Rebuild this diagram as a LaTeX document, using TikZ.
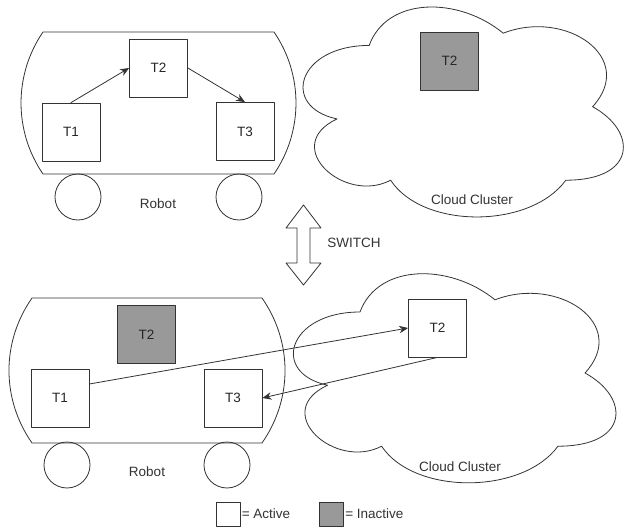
\documentclass[tikz,border=0pt]{standalone}
\usepackage{fontspec}
\setmainfont{Liberation Sans}
\usetikzlibrary{arrows.meta}
\definecolor{inactivegray}{HTML}{999999}
\definecolor{linegray}{HTML}{333333}

\tikzset{
  task/.style={draw=linegray,fill=white,minimum size=58pt,inner sep=0pt,text=black!85},
  inactive/.style={task,fill=inactivegray},
  legendbox/.style={draw=linegray,minimum size=24pt,inner sep=0pt},
  tag/.style={text=black!80,inner sep=1pt}
}

\begin{document}
\begin{tikzpicture}[line cap=round,line join=round,>={Stealth[length=9pt,width=7.5pt]},x=1pt,y=-1pt,
    line width=0.8pt,draw=linegray,font=\fontsize{13.5}{16}\selectfont]
    \useasboundingbox (0,0) rectangle (625,527);
    % robot bodies
    \draw (43,32) -- (274,32) .. controls (303.3,74.7) and (303.3,131.3) .. (274,174)
      -- (43,174) .. controls (13.7,131.3) and (13.7,74.7) .. (43,32) -- cycle;
    \draw (32,298) -- (262,298) .. controls (292.7,342) and (292.7,399) .. (262,443)
      -- (32,443) .. controls (1.3,399) and (1.3,342) .. (32,298) -- cycle;
    % wheels
    \foreach \x/\y in {78/197,239/197,67/465,227/465}
    \draw (\x,\y) circle (23);
    % clouds
    \foreach \cx/\cy/\cw/\chh in {279.8/-15.8/357.5/245,270/251/360/244}
    {
    \begin{scope}[shift={(\cx,\cy)},xscale=\cw,yscale=\chh]
      \draw (0.25,0.25) .. controls (0.05,0.25) and (0,0.5) .. (0.16,0.55)
        .. controls (0,0.66) and (0.18,0.9) .. (0.31,0.8)
        .. controls (0.4,1) and (0.7,1) .. (0.8,0.8)
        .. controls (1,0.8) and (1,0.6) .. (0.875,0.5)
        .. controls (1,0.3) and (0.8,0.1) .. (0.625,0.2)
        .. controls (0.5,0.05) and (0.3,0.05) .. (0.25,0.25) -- cycle;
    \end{scope}
    }
    % switch arrow
    \draw (303.5,205) -- (321,228) -- (310,228) -- (310,263) -- (321,263) -- (303.5,285)
      -- (286,263) -- (297,263) -- (297,228) -- (286,228) -- cycle;
    \node[tag] (switch) at (354,243) {SWITCH};
    % before the switch
    \node[task] (t1) at (71,132) {T1};
    \node[task] (t2) at (158.5,68) {T2};
    \node[task] (t3) at (245,131.5) {T3};
    \node[inactive] (ct2) at (449.5,61) {T2};
    \draw[->] (t1.north) -- (t2.west);
    \draw[->] (t2.east) -- (t3.north);
    \node[tag] (robotA) at (158,204) {Robot};
    \node[tag] (cloudA) at (472,200) {Cloud Cluster};
    % after the switch
    \node[task] (b1) at (60,398) {T1};
    \node[inactive] (b2) at (146.5,334.5) {T2};
    \node[task] (b3) at (233,398) {T3};
    \node[task] (c2) at (437.5,328) {T2};
    \draw[->] ([yshift=14pt]b1.east) -- (c2.west);
    \draw[->] (c2.south) -- (b3.east);
    \node[tag] (robotB) at (147,472) {Robot};
    \node[tag] (cloudB) at (460,467) {Cloud Cluster};
    % legend
    \node[legendbox,fill=white] (activebox) at (228,514) {};
    \node[tag,anchor=west] (activetext) at (activebox.east) {= Active};
    \node[legendbox,fill=inactivegray] (inactivebox) at (331.5,514) {};
    \node[tag,anchor=west] (inactivetext) at (inactivebox.east) {= Inactive};
\end{tikzpicture}
\end{document}
